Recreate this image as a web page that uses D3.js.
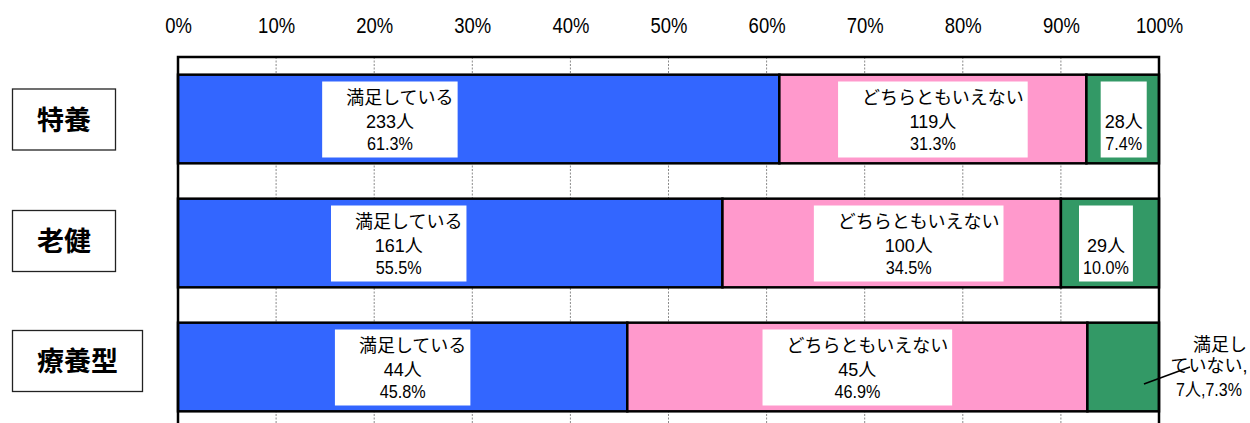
<!DOCTYPE html>
<html>
<head>
<meta charset="utf-8">
<script src="https://cdn.jsdelivr.net/npm/d3@7"></script>
<style>
html, body { margin: 0; padding: 0; background: #fff; }
svg { display: block; }
text { font-family: "Liberation Sans", Arial, "Noto Sans CJK JP", sans-serif; fill: #000; }
.cat { font-family: "Noto Sans CJK JP", sans-serif; font-weight: 700; }
</style>
</head>
<body>
<svg id="chart" width="1250" height="423"></svg>
<script>
// ---- data ----
const categories = ["特養", "老健", "療養型"];
const seriesNames = ["満足している", "どちらともいえない", "満足していない"];
const satisfiedCounts = [233, 161, 44];
const neutralCounts = [119, 100, 45];
const dissatisfiedCounts = [28, 29, 7];
const satisfiedPct = [61.3, 55.5, 45.8];
const neutralPct = [31.3, 34.5, 46.9];
const dissatisfiedPct = [7.4, 10.0, 7.3];
const tickValues = [0, 10, 20, 30, 40, 50, 60, 70, 80, 90, 100];
const tickLabels = ["0%", "10%", "20%", "30%", "40%", "50%", "60%", "70%", "80%", "90%", "100%"];

// ---- layout / style ----
const colors = ["#3366FF", "#FF99CC", "#339966"];
const plot = { left: 178, right: 1159, top: 57 };
const step = 124;
const blueLabelPct = [21.6, 22.5, 22.9];      // manual label positions (percent of axis)
const pinkLabelShift = [0, 17, 0];            // px shift from segment centre
const greenLabelShift = [1, -4, 0];
const catBoxShift = [0.5, -2, -6];

const svg = d3.select("#chart");
const x = d3.scaleLinear().domain([0, 100]).range([plot.left, plot.right]);
const y = d3.scaleBand().domain(categories)
  .range([plot.top, plot.top + step * categories.length])
  .paddingInner(0.285).paddingOuter(0.1425);

const pctBySeries = [satisfiedPct, neutralPct, dissatisfiedPct];

const rows = categories.map((c, i) => {
  const r = { cat: c };
  seriesNames.forEach((s, k) => { r[s] = pctBySeries[k][i]; });
  return r;
});
const stacked = d3.stack().keys(seriesNames)(rows);

// grid
svg.append("g").selectAll("line").data(tickValues.slice(1, -1)).join("line")
  .attr("x1", d => x(d)).attr("x2", d => x(d))
  .attr("y1", plot.top).attr("y2", plot.top + step * categories.length)
  .attr("stroke", "#8a8a8a").attr("stroke-width", 1).attr("stroke-dasharray", "2,1.5");

// top axis
const axis = d3.axisTop(x).tickValues(tickValues)
  .tickFormat((d, i) => tickLabels[i]).tickSize(0).tickPadding(24);
const ag = svg.append("g").attr("transform", `translate(0,${plot.top})`).call(axis);
ag.select(".domain").remove();
ag.selectAll("text").attr("font-size", 22).attr("font-family", "Liberation Sans, Arial, sans-serif")
  .attr("fill", "#000").attr("transform", "scale(0.84,1)");

// bars
stacked.forEach((layer, k) => {
  svg.append("g").selectAll("rect").data(layer).join("rect")
    .attr("x", d => x(d[0]))
    .attr("y", d => y(d.data.cat))
    .attr("width", d => x(d[1]) - x(d[0]))
    .attr("height", y.bandwidth())
    .attr("fill", colors[k])
    .attr("stroke", "#000").attr("stroke-width", 2.5);
});

// plot frame (top, left, right)
const frameBottom = plot.top + step * categories.length;
svg.append("path")
  .attr("d", `M${plot.left},${frameBottom} V${plot.top} H${plot.right} V${frameBottom}`)
  .attr("fill", "none").attr("stroke", "#000").attr("stroke-width", 2.5);

// data labels
const lblG = svg.append("g");
function addLine(g, cx, cy, t, s) {
  const te = g.append("text")
    .attr("transform", `translate(${cx + s.dx},${cy + s.dy}) scale(${s.sx},1)`)
    .attr("text-anchor", "middle").attr("font-size", s.size).text(t);
  return te.node().getComputedTextLength() * s.sx;
}
function drawLabel(cx, cy, lines) {
  const g = lblG.append("g");
  const rect = g.append("rect").attr("fill", "#fff");
  const specs = [
    { dy: -14.7, size: 18, dx: 10, sx: 1 },
    { dy: 9, size: 18, dx: 0, sx: 1 },
    { dy: 31, size: 18, dx: 0, sx: 0.9 }
  ];
  let half = 0;
  lines.forEach((t, j) => {
    if (!t) return;
    const s = specs[j];
    const w = addLine(g, cx, cy, t, s);
    half = Math.max(half, Math.abs(s.dx) + w / 2);
  });
  half += 4;
  rect.attr("x", cx - half).attr("y", cy - 37.5).attr("width", half * 2).attr("height", 76);
}

categories.forEach((c, i) => {
  const cy = y(c) + y.bandwidth() / 2;
  const l1 = stacked[1][i], l2 = stacked[2][i];
  drawLabel(x(blueLabelPct[i]), cy,
    [seriesNames[0], satisfiedCounts[i] + "人", satisfiedPct[i].toFixed(1) + "%"]);
  drawLabel((x(l1[0]) + x(l1[1])) / 2 + pinkLabelShift[i], cy,
    [seriesNames[1], neutralCounts[i] + "人", neutralPct[i].toFixed(1) + "%"]);
  if (i < 2) {
    drawLabel((x(l2[0]) + x(l2[1])) / 2 + greenLabelShift[i], cy,
      ["", dissatisfiedCounts[i] + "人", dissatisfiedPct[i].toFixed(1) + "%"]);
  } else {
    // external label with leader line
    const lx = 1209;
    const x0 = x(l2[0]), x1 = x(l2[1]);
    lblG.append("line")
      .attr("x1", x0 + (x1 - x0) * 0.79).attr("y1", cy + 17)
      .attr("x2", lx - 19).attr("y2", cy)
      .attr("stroke", "#000").attr("stroke-width", 1.6);
    const name = seriesNames[2];
    const g = lblG.append("g");
    addLine(g, lx, cy, name.slice(0, 3), { dy: -16, dx: 11, size: 18, sx: 1 });
    addLine(g, lx, cy, name.slice(3) + ",", { dy: 4.8, dx: 0, size: 18, sx: 1 });
    addLine(g, lx, cy, dissatisfiedCounts[i] + "人," + dissatisfiedPct[i].toFixed(1) + "%",
      { dy: 29, dx: 0, size: 18, sx: 0.89 });
  }
});

// category label boxes
categories.forEach((c, i) => {
  const cy = y(c) + y.bandwidth() / 2 + catBoxShift[i];
  const w = c.length * 27 + 49;
  svg.append("rect").attr("x", 12.5).attr("y", cy - 30.5).attr("width", w).attr("height", 61)
    .attr("fill", "#fff").attr("stroke", "#222").attr("stroke-width", 1.3);
  svg.append("text").attr("class", "cat").attr("x", 12.5 + w / 2).attr("y", cy + 10)
    .attr("text-anchor", "middle").attr("font-size", 27).text(c);
});
</script>
</body>
</html>
